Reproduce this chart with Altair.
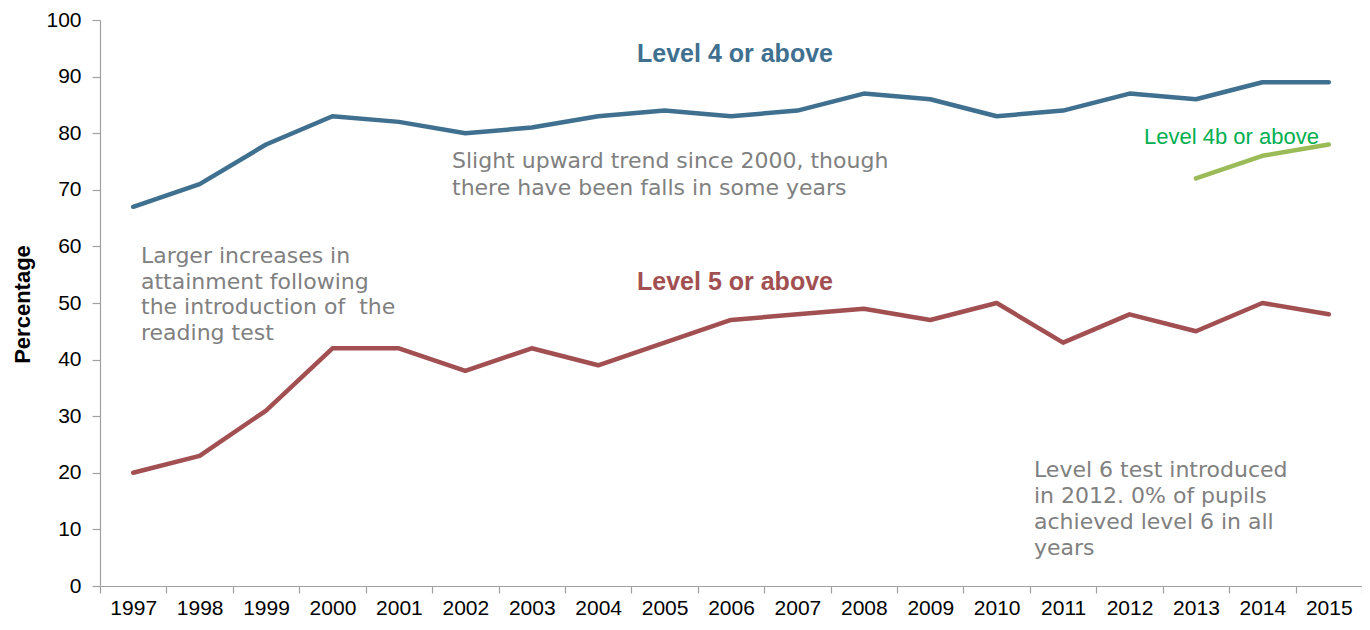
import altair as alt
import pandas as pd

years = [str(y) for y in range(1997, 2016)]
level4 = [67, 71, 78, 83, 82, 80, 81, 83, 84, 83, 84, 87, 86, 83, 84, 87, 86, 89, 89]
level5 = [20, 23, 31, 42, 42, 38, 42, 39, 43, 47, 48, 49, 47, 50, 43, 48, 45, 50, 48]
level4b_years = ["2013", "2014", "2015"]
level4b = [72, 76, 78]
y_ticks = list(range(0, 101, 10))

series_names = ["Level 4 or above", "Level 5 or above", "Level 4b or above"]
series_colors = ["#40708F", "#A24F52", "#9BBB59"]

rows = []
for yr, v in zip(years, level4):
    rows.append({"year": yr, "value": v, "series": series_names[0]})
for yr, v in zip(years, level5):
    rows.append({"year": yr, "value": v, "series": series_names[1]})
for yr, v in zip(level4b_years, level4b):
    rows.append({"year": yr, "value": v, "series": series_names[2]})
df = pd.DataFrame(rows)

W, H = 1262, 566

lines = alt.Chart(df).mark_line(strokeWidth=4.5, strokeCap="round", strokeJoin="round").encode(
    x=alt.X("year:O", bandPosition=0.5,
            scale=alt.Scale(type="band", domain=years, paddingInner=0, paddingOuter=0),
            axis=alt.Axis(title=None, tickBand="extent", labelAngle=0, labelFontSize=21,
                          labelFont="Liberation Sans", labelColor="#000000", tickSize=7,
                          labelPadding=4, domainColor="#A0A0A0", tickColor="#A0A0A0",
                          domainWidth=1.2, tickWidth=1.2)),
    y=alt.Y("value:Q", scale=alt.Scale(domain=[0, 100], nice=False),
            axis=alt.Axis(values=y_ticks, title="Percentage", titleFont="Liberation Sans",
                          titleFontSize=22, titleFontWeight="bold", titleColor="#000000",
                          titleAngle=-90, titleX=-78, titleY=284, titleAlign="center",
                          titleBaseline="middle",
                          labelFontSize=21, labelFont="Liberation Sans", labelColor="#000000",
                          tickSize=8, labelPadding=11, domainColor="#A0A0A0",
                          tickColor="#A0A0A0", domainWidth=1.2, tickWidth=1.2, grid=False)),
    color=alt.Color("series:N", scale=alt.Scale(domain=series_names, range=series_colors),
                    legend=None),
    detail="series:N",
)

one = alt.Data(values=[{"k": 0}])


def label(text, x, y, color, size, weight="normal", font="Liberation Sans",
          align="left", baseline="alphabetic", line_height=26):
    return alt.Chart(one).mark_text(
        align=align, baseline=baseline, font=font, fontSize=size, fontWeight=weight,
        color=color, lineHeight=line_height
    ).encode(x=alt.value(x), y=alt.value(y), text=alt.value(text))


annotations = [
    label("Level 4 or above", 635, 34.4, "#40708F", 25, "bold", align="center", baseline="middle"),
    label("Level 5 or above", 635, 262.4, "#A24F52", 25, "bold", align="center", baseline="middle"),
    label("Level 4b or above", 1044, 116.5, "#00B050", 22, baseline="middle"),
    label(["Slight upward trend since 2000, though", "there have been falls in some years"],
          352, 148.4, "#808080", 22, font="DejaVu Sans", line_height=26.5),
    label(["Larger increases in", "attainment following", "the introduction of\u00a0 the",
           "reading test"], 41, 242.7, "#808080", 22, font="DejaVu Sans", line_height=25.9),
    label(["Level 6 test introduced", "in 2012. 0% of pupils", "achieved level 6 in all",
           "years"], 934, 456.9, "#808080", 22, font="DejaVu Sans", line_height=25.9),
]

chart = alt.layer(lines, *annotations).properties(
    width=W, height=H,
    autosize=alt.AutoSizeParams(type="none"),
    padding={"left": 92, "top": 12, "right": 0, "bottom": 32},
    background="#FFFFFF",
).configure_view(stroke=None)

chart.save("out.html", embed_options={"renderer": "svg", "actions": False})
